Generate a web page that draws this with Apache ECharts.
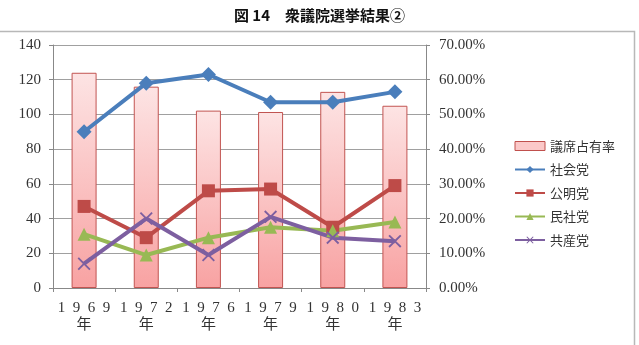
<!DOCTYPE html>
<html lang="ja">

<head>
  <meta charset="UTF-8">
  <title>衆議院選挙結果②</title>
  <style>
    html, body { margin: 0; padding: 0; background: #fff; }
  </style>
</head>

<body>
  <div id="main" style="width: 639px;height: 345px;"></div>
</body>
<script src="https://cdn.jsdelivr.net/npm/echarts@6/dist/echarts.min.js"></script>
<script>
  var chart = echarts.init(document.getElementById('main'))

  // 選挙年
  var years = ['1\u20029\u20026\u20029\n年', '1\u20029\u20027\u20022\n年', '1\u20029\u20027\u20026\n年',
    '1\u20029\u20027\u20029\n年', '1\u20029\u20028\u20020\n年', '1\u20029\u20028\u20023\n年']
  // 議席占有率（右軸）
  var seatShare = [0.620, 0.580, 0.511, 0.507, 0.565, 0.525]
  // 議席数（左軸）
  var shakai = [90, 118, 123, 107, 107, 113]
  var komei = [47, 29, 56, 57, 35, 59]
  var minsha = [31, 19, 29, 35, 33, 38]
  var kyosan = [14, 40, 19, 41, 29, 27]

  var serif = "'Liberation Serif', 'DejaVu Serif', 'Noto Sans CJK JP', serif"
  var jp = "'Noto Sans CJK JP', sans-serif"
  var crossPath = 'path://M0,1L1,0L5,4L9,0L10,1L6,5L10,9L9,10L5,6L1,10L0,9L4,5Z'

  function lineSeries(name, data, color, symbol, size) {
    return {
      name: name,
      type: 'line',
      yAxisIndex: 0,
      data: data,
      symbol: symbol,
      symbolSize: size,
      lineStyle: { width: 4, color: color },
      itemStyle: { color: color },
      z: 3
    }
  }

  var option = {
    animation: false,
    title: {
      text: '図 14　衆議院選挙結果②',
      left: 'center',
      top: 3,
      textStyle: { fontFamily: jp, fontSize: 15, fontWeight: 'bold', color: '#111' }
    },
    graphic: [{
      type: 'rect',
      shape: { x: -3, y: 31.5, width: 637.5, height: 330 },
      style: { fill: 'none', stroke: '#b8b8b8', lineWidth: 1.5 },
      silent: true
    }],
    grid: { left: 53, right: 213, top: 45, bottom: 57 },
    legend: {
      orient: 'vertical',
      left: 509,
      top: 134,
      itemWidth: 30,
      itemHeight: 9,
      itemGap: 9.5,
      textStyle: { fontFamily: jp, fontSize: 13, color: '#333', lineHeight: 14 },
      data: [
        { name: '議席占有率', icon: 'rect', itemStyle: { color: '#fbc8c8', borderColor: '#c0504d', borderWidth: 1 } },
        '社会党', '公明党', '民社党', '共産党'
      ]
    },
    xAxis: {
      type: 'category',
      data: years,
      axisLine: { lineStyle: { color: '#888' } },
      axisTick: { show: true, length: 4, lineStyle: { color: '#888' } },
      axisLabel: { fontFamily: serif, fontSize: 15, color: '#333', margin: 12, lineHeight: 17, interval: 0 }
    },
    yAxis: [
      {
        type: 'value',
        min: 0,
        max: 140,
        interval: 20,
        axisLine: { show: true, lineStyle: { color: '#888' } },
        axisTick: { show: true, length: 4, lineStyle: { color: '#888' } },
        splitLine: { lineStyle: { color: '#a0a0a0' } },
        axisLabel: { fontFamily: serif, fontSize: 15, color: '#333', margin: 12 }
      },
      {
        type: 'value',
        min: 0,
        max: 0.7,
        interval: 0.1,
        axisLine: { show: true, lineStyle: { color: '#888' } },
        axisTick: { show: true, length: 4, lineStyle: { color: '#888' } },
        splitLine: { show: false },
        axisLabel: {
          fontFamily: serif, fontSize: 15, color: '#333', margin: 13,
          formatter: function (v) { return (v * 100).toFixed(2) + '%' }
        }
      }
    ],
    series: [
      {
        name: '議席占有率',
        type: 'bar',
        yAxisIndex: 1,
        data: seatShare,
        barWidth: 25,
        itemStyle: {
          color: new echarts.graphic.LinearGradient(0, 0, 0, 1, [
            { offset: 0, color: '#fde4e4' },
            { offset: 1, color: '#f8a2a2' }
          ]),
          borderColor: '#c25451',
          borderWidth: 1
        },
        z: 1
      },
      lineSeries('社会党', shakai, '#4a7ebb', 'diamond', 15),
      lineSeries('公明党', komei, '#be4b48', 'rect', 13),
      lineSeries('民社党', minsha, '#98b954', 'triangle', 13),
      lineSeries('共産党', kyosan, '#7d5fa0', crossPath, 13)
    ]
  }

  chart.setOption(option)
</script>

</html>
